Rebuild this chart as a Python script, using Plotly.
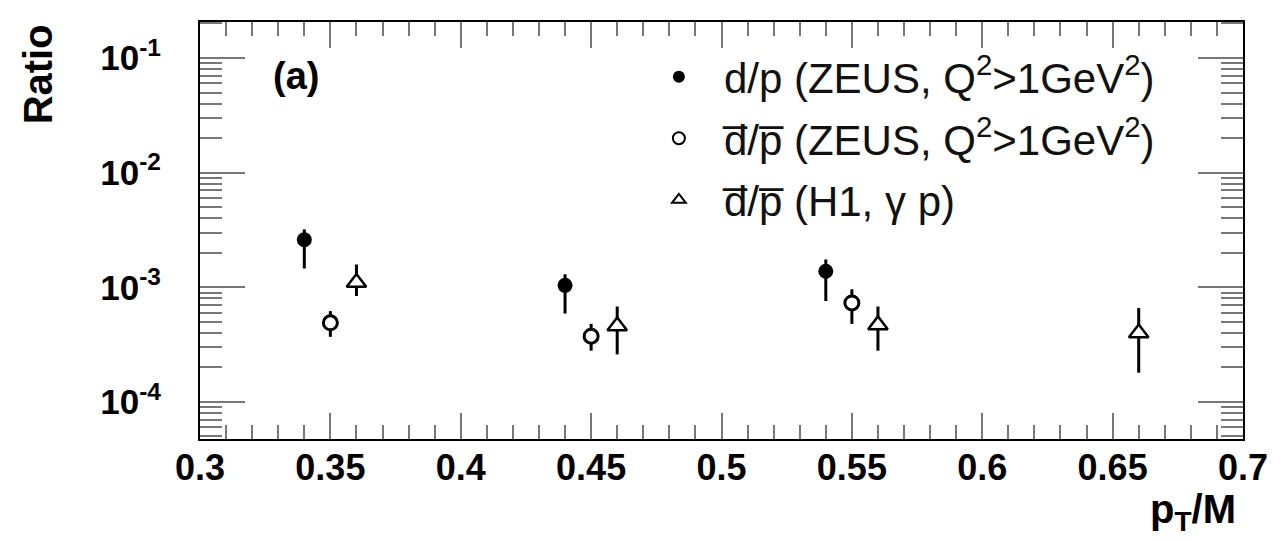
import plotly.graph_objects as go

# ZEUS d/p
zd_x = [0.34, 0.44, 0.54]
zd_y = [2.6e-3, 1.04e-3, 1.38e-3]
zd_hi = [3.2e-3, 1.30e-3, 1.75e-3]
zd_lo = [1.46e-3, 0.59e-3, 0.76e-3]

# ZEUS dbar/pbar
zb_x = [0.35, 0.45, 0.55]
zb_y = [4.9e-4, 3.75e-4, 7.3e-4]
zb_hi = [6.2e-4, 4.8e-4, 9.6e-4]
zb_lo = [3.7e-4, 2.8e-4, 4.8e-4]

# H1 dbar/pbar (photoproduction)
h1_x = [0.36, 0.46, 0.56, 0.66]
h1_y = [1.10e-3, 4.6e-4, 4.7e-4, 4.0e-4]
h1_hi = [1.58e-3, 6.8e-4, 6.8e-4, 6.6e-4]
h1_lo = [0.84e-3, 2.6e-4, 2.8e-4, 1.8e-4]

y_major = [1e-4, 1e-3, 1e-2, 1e-1]
y_major_text = ["10<sup>-4</sup>", "10<sup>-3</sup>", "10<sup>-2</sup>", "10<sup>-1</sup>"]
x_ticks = [0.3, 0.35, 0.4, 0.45, 0.5, 0.55, 0.6, 0.65, 0.7]
x_tick_text = ["0.3", "0.35", "0.4", "0.45", "0.5", "0.55", "0.6", "0.65", "0.7"]

FONT = "Liberation Sans, Arial, sans-serif"
DBAR = "d\u0305/p\u0305"


def errs(y, hi, lo):
    return [h - v for v, h in zip(y, hi)], [v - l for v, l in zip(y, lo)]


def series(x, y, hi, lo, name, marker):
    up, down = errs(y, hi, lo)
    return go.Scatter(
        x=x, y=y, mode="markers", name=name, legendgroup=name,
        marker=marker,
        error_y=dict(type="data", symmetric=False, array=up, arrayminus=down,
                     color="black", thickness=3, width=0),
        hoverinfo="x+y",
    )


fig = go.Figure()
fig.add_trace(series(zd_x, zd_y, zd_hi, zd_lo,
                     "d/p (ZEUS, Q<sup>2</sup>>1GeV<sup>2</sup>)",
                     dict(symbol="circle", size=15, color="black")))
fig.add_trace(series(zb_x, zb_y, zb_hi, zb_lo,
                     DBAR + " (ZEUS, Q<sup>2</sup>>1GeV<sup>2</sup>)",
                     dict(symbol="circle", size=14, color="white",
                          line=dict(color="black", width=3))))
fig.add_trace(series(h1_x, h1_y, h1_hi, h1_lo,
                     DBAR + " (H1, γ p)",
                     dict(symbol="triangle-up", size=17, color="white",
                          line=dict(color="black", width=2.5))))

minor_vals = [m * 10 ** e for e in range(-5, 0) for m in range(2, 10)]

fig.update_layout(
    width=1282, height=541,
    paper_bgcolor="white", plot_bgcolor="white",
    margin=dict(l=192, r=47, t=14, b=110),
    font=dict(family=FONT, color="black"),
    showlegend=True,
    legend=dict(
        x=0.416, y=0.95, xanchor="left", yanchor="top",
        font=dict(size=42, color="#111"),
        bgcolor="rgba(0,0,0,0)", itemsizing="constant",
        itemwidth=80, tracegroupgap=4,
    ),
    annotations=[
        dict(text="<b>(a)</b>", x=0.068, y=0.87, xref="paper", yref="paper",
             xanchor="left", yanchor="middle", showarrow=False,
             font=dict(size=38)),
        dict(text="<b>Ratio</b>", x=-0.155, y=1.0, xref="paper", yref="paper",
             xanchor="center", yanchor="top", textangle=-90, showarrow=False,
             font=dict(size=40)),
        dict(text="<b>p<sub>T</sub>/M</b>", x=0.995, y=-0.175, xref="paper", yref="paper",
             xanchor="right", yanchor="middle", showarrow=False,
             font=dict(size=40)),
    ],
)

fig.update_xaxes(
    range=[0.3, 0.7], tickvals=x_ticks, ticktext=x_tick_text,
    showline=True, linecolor="black", linewidth=2, mirror="allticks",
    ticks="inside", ticklen=26, tickwidth=1.5, tickcolor="#777",
    minor=dict(dtick=0.01, tick0=0.3, ticks="inside", ticklen=14,
               tickwidth=1.5, tickcolor="#777"),
    tickfont=dict(size=36, family=FONT, weight="bold"),
    ticklabelstandoff=-4,
    showgrid=False, zeroline=False,
)
fig.update_yaxes(
    type="log", range=[-4.323, -0.686],
    tickvals=y_major, ticktext=y_major_text,
    showline=True, linecolor="black", linewidth=2, mirror="allticks",
    ticks="inside", ticklen=45, tickwidth=1.5, tickcolor="#777",
    minor=dict(tickvals=minor_vals, ticks="inside", ticklen=22,
               tickwidth=1.5, tickcolor="#777"),
    tickfont=dict(size=35, family=FONT, weight="bold"),
    ticklabelstandoff=30,
    showgrid=False, zeroline=False,
)

fig.write_html("out.html")
